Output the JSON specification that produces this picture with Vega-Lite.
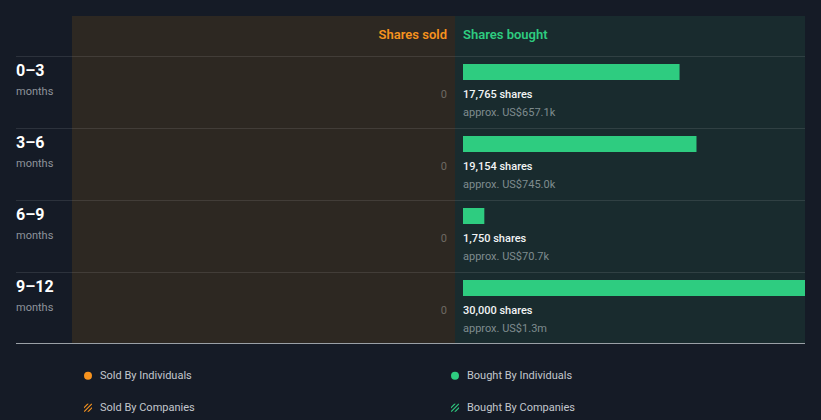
{
  "$schema": "https://vega.github.io/schema/vega-lite/v6.json",
  "background": "#151b26",
  "padding": {"left": 15, "top": 16, "right": 16, "bottom": 0},
  "spacing": 0,
  "config": {
    "view": {"stroke": null},
    "font": "Roboto",
    "concat": {"spacing": 0},
    "text": {"font": "Roboto"}
  },
  "datasets": {
    "rows": [
      {"period": "0–3", "unit": "months", "sold": 0, "bought": 17765, "boughtLabel": "17,765 shares", "approx": "approx. US$657.1k"},
      {"period": "3–6", "unit": "months", "sold": 0, "bought": 19154, "boughtLabel": "19,154 shares", "approx": "approx. US$745.0k"},
      {"period": "6–9", "unit": "months", "sold": 0, "bought": 1750, "boughtLabel": "1,750 shares", "approx": "approx. US$70.7k"},
      {"period": "9–12", "unit": "months", "sold": 0, "bought": 30000, "boughtLabel": "30,000 shares", "approx": "approx. US$1.3m"}
    ],
    "headers": [
      {"side": "Sold", "title": "Shares sold"},
      {"side": "Bought", "title": "Shares bought"}
    ],
    "legendItems": [
      {"side": "Sold", "kind": "Individuals", "label": "Sold By Individuals"},
      {"side": "Bought", "kind": "Individuals", "label": "Bought By Individuals"},
      {"side": "Sold", "kind": "Companies", "label": "Sold By Companies"},
      {"side": "Bought", "kind": "Companies", "label": "Bought By Companies"}
    ]
  },
  "vconcat": [
    {
      "bounds": "flush",
      "spacing": 0,
      "hconcat": [
        {
          "width": 56, "height": 40,
          "data": {"values": [{"t": ""}]},
          "mark": {"type": "text"},
          "encoding": {"text": {"field": "t"}}
        },
        {
          "width": 383, "height": 40,
          "view": {"fill": "#2d2822", "stroke": null},
          "data": {"name": "headers"},
          "transform": [{"filter": "datum.side === 'Sold'"}],
          "mark": {"type": "text", "align": "right", "baseline": "alphabetic", "dx": -8, "dy": 3, "fontSize": 13, "fontWeight": 600, "color": "#f7931e"},
          "encoding": {
            "x": {"datum": 0, "type": "quantitative", "scale": {"domain": [0, 28712], "reverse": true}, "axis": null},
            "text": {"field": "title"}
          }
        },
        {
          "width": 350, "height": 40,
          "view": {"fill": "#192b2e", "stroke": null},
          "data": {"name": "headers"},
          "transform": [{"filter": "datum.side === 'Bought'"}],
          "mark": {"type": "text", "align": "left", "baseline": "alphabetic", "dx": 8, "dy": 3, "fontSize": 13, "fontWeight": 600, "color": "#2ecc80"},
          "encoding": {
            "x": {"datum": 0, "type": "quantitative", "scale": {"domain": [0, 28712]}, "axis": null},
            "text": {"field": "title"}
          }
        }
      ]
    },
    {
      "bounds": "flush",
      "spacing": 0,
      "hconcat": [
        {
          "width": 56, "height": 288,
          "data": {"name": "rows"},
          "layer": [
            {
              "mark": {"type": "rule", "color": "#ffffff", "opacity": 0.1, "yOffset": 0.5},
              "encoding": {
                "y": {"field": "period", "type": "nominal", "bandPosition": 0, "sort": null, "scale": {"domain": ["0–3", "3–6", "6–9", "9–12"], "paddingInner": 0, "paddingOuter": 0}, "axis": null}
              }
            },
            {
              "transform": [{"filter": "datum.period === '9–12'"}],
              "mark": {"type": "rule", "color": "#9aa0a6", "yOffset": -0.5},
              "encoding": {
                "y": {"field": "period", "type": "nominal", "bandPosition": 1, "sort": null, "axis": null}
              }
            },
            {
              "mark": {"type": "text", "align": "left", "baseline": "alphabetic", "dy": 20, "fontSize": 16, "fontWeight": "bold", "color": "#ffffff"},
              "encoding": {
                "x": {"datum": 0, "type": "quantitative", "scale": {"domain": [0, 1]}, "axis": null},
                "y": {"field": "period", "type": "nominal", "bandPosition": 0, "sort": null, "axis": null},
                "text": {"field": "period"}
              }
            },
            {
              "mark": {"type": "text", "align": "left", "baseline": "alphabetic", "dy": 39, "fontSize": 11, "color": "#8e939b"},
              "encoding": {
                "x": {"datum": 0, "type": "quantitative", "axis": null},
                "y": {"field": "period", "type": "nominal", "bandPosition": 0, "sort": null, "axis": null},
                "text": {"field": "unit"}
              }
            }
          ]
        },
        {
          "width": 383, "height": 288,
          "view": {"fill": "#2d2822", "stroke": null},
          "data": {"name": "rows"},
          "layer": [
            {
              "mark": {"type": "rule", "color": "#ffffff", "opacity": 0.1, "yOffset": 0.5},
              "encoding": {
                "y": {"field": "period", "type": "nominal", "bandPosition": 0, "sort": null, "scale": {"domain": ["0–3", "3–6", "6–9", "9–12"], "paddingInner": 0, "paddingOuter": 0}, "axis": null}
              }
            },
            {
              "transform": [{"filter": "datum.period === '9–12'"}],
              "mark": {"type": "rule", "color": "#9aa0a6", "yOffset": -0.5},
              "encoding": {
                "y": {"field": "period", "type": "nominal", "bandPosition": 1, "sort": null, "axis": null}
              }
            },
            {
              "mark": {"type": "text", "align": "right", "baseline": "alphabetic", "dx": -8, "dy": 42, "fontSize": 11, "color": "#6e6a64"},
              "encoding": {
                "x": {"field": "sold", "type": "quantitative", "scale": {"domain": [0, 28712], "reverse": true}, "axis": null},
                "y": {"field": "period", "type": "nominal", "bandPosition": 0, "sort": null, "axis": null},
                "text": {"field": "sold"}
              }
            }
          ]
        },
        {
          "width": 350, "height": 288,
          "view": {"fill": "#192b2e", "stroke": null},
          "data": {"name": "rows"},
          "layer": [
            {
              "mark": {"type": "rule", "color": "#ffffff", "opacity": 0.1, "yOffset": 0.5},
              "encoding": {
                "y": {"field": "period", "type": "nominal", "bandPosition": 0, "sort": null, "scale": {"domain": ["0–3", "3–6", "6–9", "9–12"], "paddingInner": 0, "paddingOuter": 0}, "axis": null}
              }
            },
            {
              "transform": [{"filter": "datum.period === '9–12'"}],
              "mark": {"type": "rule", "color": "#9aa0a6", "yOffset": -0.5},
              "encoding": {
                "y": {"field": "period", "type": "nominal", "bandPosition": 1, "sort": null, "axis": null}
              }
            },
            {
              "mark": {"type": "bar", "color": "#2ecc80", "height": 16, "xOffset": 8, "x2Offset": 8, "yOffset": -20, "clip": true},
              "encoding": {
                "x": {"field": "bought", "type": "quantitative", "scale": {"domain": [0, 28712], "nice": false, "zero": true}, "axis": null},
                "y": {"field": "period", "type": "nominal", "sort": null, "axis": null}
              }
            },
            {
              "mark": {"type": "text", "align": "left", "baseline": "alphabetic", "dx": 8, "dy": 42, "fontSize": 11, "fontWeight": 500, "color": "#f2f4f5"},
              "encoding": {
                "x": {"datum": 0, "type": "quantitative", "axis": null},
                "y": {"field": "period", "type": "nominal", "bandPosition": 0, "sort": null, "axis": null},
                "text": {"field": "boughtLabel"}
              }
            },
            {
              "mark": {"type": "text", "align": "left", "baseline": "alphabetic", "dx": 8, "dy": 60, "fontSize": 11, "color": "#7f8b8e"},
              "encoding": {
                "x": {"datum": 0, "type": "quantitative", "axis": null},
                "y": {"field": "period", "type": "nominal", "bandPosition": 0, "sort": null, "axis": null},
                "text": {"field": "approx"}
              }
            }
          ]
        }
      ]
    },
    {
      "width": 511, "height": 76,
      "data": {"name": "legendItems"},
      "layer": [
        {
          "mark": {"type": "point", "filled": true, "size": 64, "opacity": 1},
          "encoding": {
            "x": {"field": "side", "type": "nominal", "sort": null, "scale": {"type": "point", "domain": ["Sold", "Bought"], "padding": 0.1962}, "axis": null},
            "y": {"field": "kind", "type": "nominal", "sort": null, "scale": {"type": "point", "domain": ["Individuals", "Companies"], "padding": 0.6875, "align": 0.72}, "axis": null},
            "color": {"field": "side", "type": "nominal", "scale": {"domain": ["Sold", "Bought"], "range": ["#f7931e", "#2ecc80"]}, "legend": null},
            "shape": {"field": "kind", "type": "nominal", "scale": {"domain": ["Individuals", "Companies"], "range": ["circle", "M-1,-0.2L-0.2,-1L0.2,-1L-1,0.2ZM-1,0.8L0.8,-1L1,-1L1,-0.8L-0.8,1L-1,1ZM-0.2,1L1,-0.2L1,0.2L0.2,1Z"]}, "legend": null}
          }
        },
        {
          "mark": {"type": "text", "align": "left", "baseline": "middle", "dx": 12, "fontSize": 11, "color": "#c3c7cd"},
          "encoding": {
            "x": {"field": "side", "type": "nominal", "sort": null, "axis": null},
            "y": {"field": "kind", "type": "nominal", "sort": null, "axis": null},
            "text": {"field": "label"}
          }
        }
      ]
    }
  ]
}
